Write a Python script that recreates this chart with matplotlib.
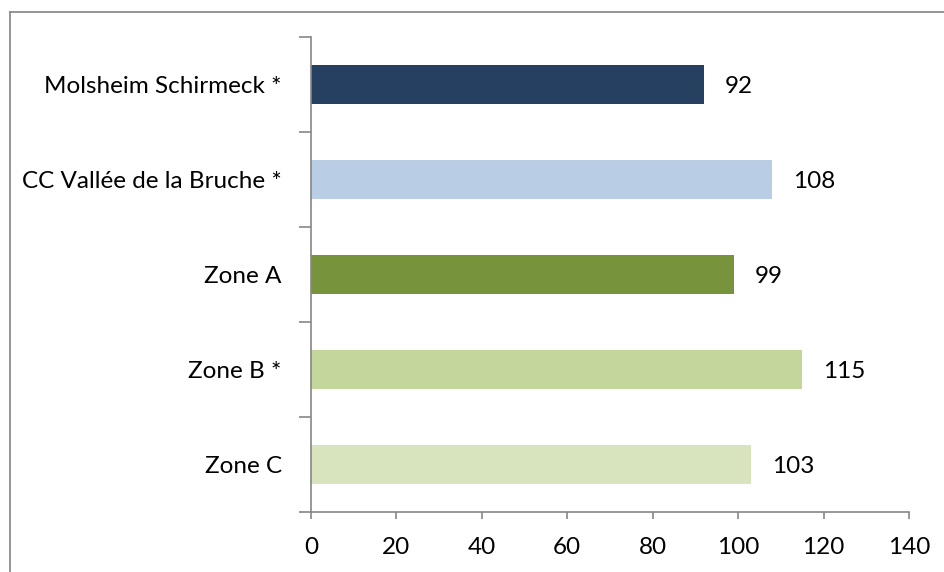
import matplotlib
matplotlib.use("Agg")
import matplotlib.pyplot as plt
from matplotlib.lines import Line2D

# Indicator values per territory (top to bottom)
categories = ["Molsheim Schirmeck *", "CC Vallée de la Bruche *", "Zone A", "Zone B *", "Zone C"]
values = [92, 108, 99, 115, 103]
bar_colors = ["#254061", "#B9CDE5", "#77933C", "#C3D69B", "#D7E4BD"]
x_ticks = [0, 20, 40, 60, 80, 100, 120, 140]

plt.rcParams["font.family"] = ["Lato", "DejaVu Sans"]
FS = 17.5

fig = plt.figure(figsize=(9.45, 5.72), dpi=100)
ax = fig.add_axes([311 / 945, 1 - 512 / 572, (909 - 311) / 945, (512 - 37) / 572])

n = len(categories)
ypos = list(range(n))[::-1]  # first category on top
ax.barh(ypos, values, height=0.41, color=bar_colors, zorder=2)

for y, v in zip(ypos, values):
    ax.annotate(str(v), xy=(v, y), xytext=(15, -1.5), textcoords="offset points",
                ha="left", va="center", fontsize=FS, color="#000000")

ax.set_xlim(0, 140)
ax.set_ylim(-0.5, n - 0.5)
ax.set_xticks(x_ticks)
ax.set_xticklabels([str(t) for t in x_ticks], fontsize=FS)

# boundaries as major ticks, category names on minor ticks
ax.set_yticks([i - 0.5 for i in range(n + 1)])
ax.set_yticklabels([])
ax.set_yticks(ypos, minor=True)
ax.set_yticklabels(categories, minor=True, fontsize=FS)

axis_gray = "#868686"
for side in ("top", "right"):
    ax.spines[side].set_visible(False)
for side in ("left", "bottom"):
    ax.spines[side].set_color(axis_gray)
    ax.spines[side].set_linewidth(1.2)

ax.tick_params(axis="y", which="major", direction="out", length=8.5, width=1.2, color=axis_gray)
ax.tick_params(axis="y", which="minor", length=0, pad=21)
ax.tick_params(axis="x", which="major", direction="out", length=5, width=1.2, color=axis_gray, pad=13)

# chart-area frame
frame_color = "#8C8C8C"
fig.add_artist(Line2D([10 / 945, 10 / 945], [0, 1 - 12 / 572], transform=fig.transFigure,
                      color=frame_color, linewidth=1.3))
fig.add_artist(Line2D([10 / 945, 1], [1 - 12 / 572, 1 - 12 / 572], transform=fig.transFigure,
                      color=frame_color, linewidth=1.3))

fig.savefig("out.png", dpi=100)
